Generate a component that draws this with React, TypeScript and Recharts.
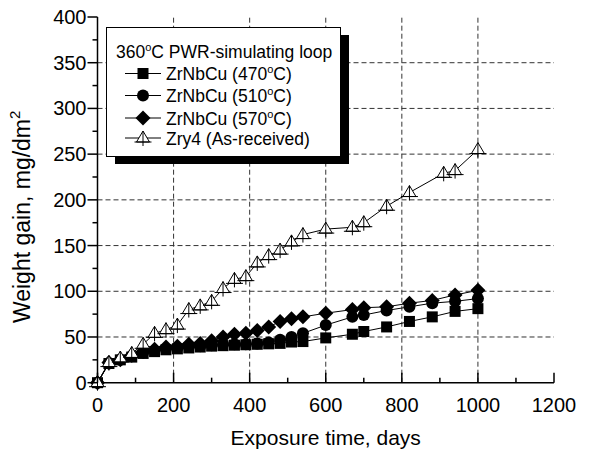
import { LineChart, Line, XAxis, YAxis, ReferenceLine } from "recharts";

// exposure days for the three ZrNbCu heat treatments
const days = [0, 30, 60, 90, 120, 150, 180, 210, 240, 270, 300, 330, 360, 390, 420, 450, 480, 510, 540, 600, 670, 700, 760, 820, 880, 940, 1000];
const zr470 = [0, 21, 25, 28, 32, 34, 36, 37, 38, 39, 40, 40.5, 41, 41.5, 42, 42.5, 43, 44.5, 45, 49, 53, 56, 61, 67, 72, 78, 81];
const zr510 = [0, 21, 25, 29, 33, 35, 37, 38, 39, 40, 41, 42, 42, 42, 43, 44, 47, 50, 54, 63, 72, 74, 79, 83, 87, 89, 92];
const zr570 = [0, 22, 25, 30, 34, 36.5, 39, 40, 42, 43, 46, 50, 53, 54, 57, 61, 67, 70, 72, 76, 80, 82, 83, 87, 90, 96, 101];

const zry4Days = [0, 30, 60, 90, 120, 150, 180, 210, 240, 270, 300, 330, 360, 390, 420, 450, 480, 510, 540, 600, 670, 700, 760, 820, 910, 940, 1000];
const zry4 = [0, 22, 27, 32, 42, 54, 58, 63, 80, 84, 89, 103, 113, 116, 131, 139, 145, 154, 162, 168, 170, 175, 193, 208, 229, 232, 255];

const xTicks = [0, 100, 200, 300, 400, 500, 600, 700, 800, 900, 1000, 1100, 1200];
const yTicks = [0, 25, 50, 75, 100, 125, 150, 175, 200, 225, 250, 275, 300, 325, 350, 375, 400];
const xGrid = [200, 400, 600, 800, 1000];
const yGrid = [50, 100, 150, 200, 250, 300, 350];

const FONT = "Arial, 'Liberation Sans', sans-serif";

const toRows = (xs: number[], ys: number[]) => xs.map((d, i) => ({ day: d, v: ys[i] }));

type Shape = "square" | "circle" | "diamond" | "triangle";

function Marker({ cx, cy, shape }: { cx: number; cy: number; shape: Shape }) {
  if (shape === "square") return <rect x={cx - 5.5} y={cy - 5.5} width={11} height={11} fill="#000" />;
  if (shape === "circle") return <circle cx={cx} cy={cy} r={6} fill="#000" />;
  if (shape === "diamond")
    return <polygon points={`${cx},${cy - 7.5} ${cx + 7.5},${cy} ${cx},${cy + 7.5} ${cx - 7.5},${cy}`} fill="#000" />;
  return (
    <g stroke="#000" strokeWidth={1} fill="#fff">
      <polygon points={`${cx},${cy - 7} ${cx + 6.5},${cy + 4} ${cx - 6.5},${cy + 4}`} />
      <line x1={cx - 8.5} x2={cx + 8.5} y1={cy + 4} y2={cy + 4} />
      <line x1={cx} x2={cx} y1={cy - 7} y2={cy + 8} />
    </g>
  );
}

const series: { name: string; temp: string; shape: Shape; data: { day: number; v: number }[] }[] = [
  { name: "ZrNbCu (470", temp: "C)", shape: "square", data: toRows(days, zr470) },
  { name: "ZrNbCu (510", temp: "C)", shape: "circle", data: toRows(days, zr510) },
  { name: "ZrNbCu (570", temp: "C)", shape: "diamond", data: toRows(days, zr570) },
  { name: "Zry4 (As-received)", temp: "", shape: "triangle", data: toRows(zry4Days, zry4) },
];

const renderDot = (shape: Shape) => (p: any) =>
  <Marker key={`${shape}-${p.index}`} cx={p.cx} cy={p.cy} shape={shape} />;

function BottomTick({ x, y, payload }: any) {
  const major = payload.value % 200 === 0;
  return (
    <g>
      <line x1={x} x2={x} y1={y} y2={y - (major ? 10 : 5)} stroke="#000" strokeWidth={1.5} />
      {major && (
        <text x={x} y={y + 29} textAnchor="middle" fontSize={20} fontFamily={FONT} fill="#000">
          {payload.value}
        </text>
      )}
    </g>
  );
}

function TopTick({ x, y, payload }: any) {
  const major = payload.value % 200 === 0;
  return <line x1={x} x2={x} y1={y} y2={y + (major ? 10 : 5)} stroke="#000" strokeWidth={1.5} />;
}

function LeftTick({ x, y, payload }: any) {
  const major = payload.value % 50 === 0;
  return (
    <g>
      <line x1={x} x2={x - (major ? 10 : 5)} y1={y} y2={y} stroke="#000" strokeWidth={1.5} />
      {major && (
        <text x={x - 11} y={y + 7} textAnchor="end" fontSize={20} fontFamily={FONT} fill="#000">
          {payload.value}
        </text>
      )}
    </g>
  );
}

function RightTick({ x, y, payload }: any) {
  const major = payload.value % 50 === 0;
  return <line x1={x} x2={x - (major ? 10 : 5)} y1={y} y2={y} stroke="#000" strokeWidth={1.5} />;
}

function YTitle({ viewBox }: any) {
  const cx = 22;
  const cy = viewBox.y + viewBox.height / 2 + 17;
  return (
    <text transform={`translate(${cx},${cy}) rotate(-90)`} textAnchor="middle" fontSize={23} fontFamily={FONT} fill="#000" dy={8}>
      Weight gain, mg/dm<tspan dy={-10} fontSize={15}>2</tspan>
    </text>
  );
}

function XTitle({ viewBox }: any) {
  const cx = viewBox.x + viewBox.width / 2;
  return (
    <text x={cx} y={445} textAnchor="middle" fontSize={21} fontFamily={FONT} fill="#000">
      Exposure time, days
    </text>
  );
}

function LegendBox() {
  const rowY = [73.5, 95.5, 118, 138];
  return (
    <svg width={260} height={150} style={{ position: "absolute", left: 100, top: 20 }}>
      <g transform="translate(-100,-20)">
        <rect x={115} y={35} width={234} height={129} fill="#000" />
        <rect x={106.5} y={27.5} width={234} height={129} fill="#fff" stroke="#000" strokeWidth={1} />
        <text x={116} y={58} fontSize={17.5} fontFamily={FONT} fill="#000">
          360<tspan dy={-7} fontSize={11}>o</tspan>
          <tspan dy={7}>C PWR-simulating loop</tspan>
        </text>
        {series.map((s, i) => (
          <g key={s.name}>
            <line x1={125} x2={161} y1={rowY[i]} y2={rowY[i]} stroke="#000" strokeWidth={1} />
            <Marker cx={143} cy={rowY[i]} shape={s.shape} />
            <text x={166} y={rowY[i] + 6.5} fontSize={17.5} fontFamily={FONT} fill="#000">
              {s.name}
              {s.temp && (
                <>
                  <tspan dy={-7} fontSize={11}>o</tspan>
                  <tspan dy={7}>{s.temp}</tspan>
                </>
              )}
            </text>
          </g>
        ))}
      </g>
    </svg>
  );
}

export default function App() {
  return (
    <div style={{ position: "absolute", left: 0, top: 0, width: 591, height: 451, background: "#fff" }}>
      <LineChart width={591} height={451} margin={{ top: 17, right: 37, bottom: 0, left: 0 }}>
        <XAxis
          xAxisId="b"
          type="number"
          dataKey="day"
          domain={[0, 1200]}
          ticks={xTicks}
          interval={0}
          height={68.3}
          tickSize={0}
          tickMargin={0}
          tickLine={false}
          tick={<BottomTick />}
          axisLine={{ stroke: "#000", strokeWidth: 1.5 }}
          label={<XTitle />}
        />
        <XAxis
          xAxisId="t"
          orientation="top"
          type="number"
          dataKey="day"
          domain={[0, 1200]}
          ticks={xTicks}
          interval={0}
          height={0}
          tickSize={0}
          tickMargin={0}
          tickLine={false}
          tick={<TopTick />}
          axisLine={{ stroke: "#000", strokeWidth: 1.5 }}
        />
        <YAxis
          yAxisId="l"
          type="number"
          domain={[0, 400]}
          ticks={yTicks}
          interval={0}
          width={97.5}
          tickSize={0}
          tickMargin={0}
          tickLine={false}
          tick={<LeftTick />}
          axisLine={{ stroke: "#000", strokeWidth: 1.5 }}
          label={<YTitle />}
        />
        <YAxis
          yAxisId="r"
          orientation="right"
          type="number"
          domain={[0, 400]}
          ticks={yTicks}
          interval={0}
          width={0}
          tickSize={0}
          tickMargin={0}
          tickLine={false}
          tick={<RightTick />}
          axisLine={{ stroke: "#000", strokeWidth: 1.5 }}
        />
        {xGrid.map((g) => (
          <ReferenceLine key={`gx${g}`} x={g} xAxisId="b" yAxisId="l" stroke="#333" strokeDasharray="5 3" />
        ))}
        {yGrid.map((g) => (
          <ReferenceLine key={`gy${g}`} y={g} xAxisId="b" yAxisId="l" stroke="#333" strokeDasharray="5 3" />
        ))}
        {series.map((s) => (
          <Line
            key={s.shape}
            xAxisId="b"
            yAxisId="l"
            data={s.data}
            dataKey="v"
            type="linear"
            stroke="#000"
            strokeWidth={1}
            dot={renderDot(s.shape)}
            activeDot={false}
            isAnimationActive={false}
          />
        ))}
      </LineChart>
      <LegendBox />
    </div>
  );
}
